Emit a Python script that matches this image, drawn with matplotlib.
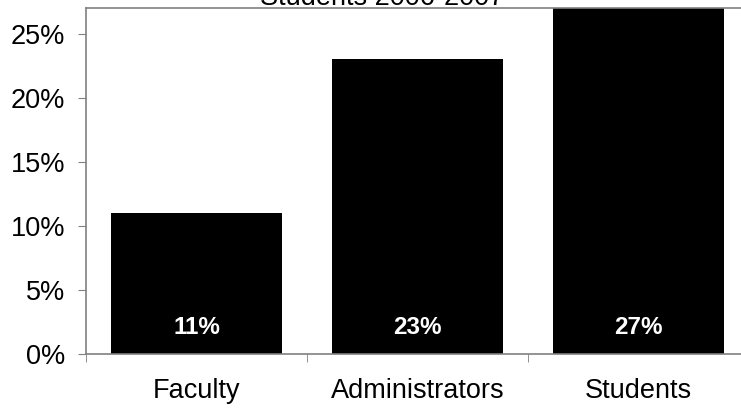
import matplotlib.pyplot as plt
from matplotlib.ticker import FuncFormatter

categories = ["Faculty", "Administrators", "Students"]
values = [11, 23, 27]
bar_labels = ["11%", "23%", "27%"]
yticks = [0, 5, 10, 15, 20, 25]

plt.rcParams['font.family'] = ['Liberation Sans', 'DejaVu Sans']

W, H = 741, 411
fig = plt.figure(figsize=(W / 100, H / 100), dpi=100)
# plot area runs past the right edge like the original
ax = fig.add_axes([86 / W, 1 - 354 / H, (749 - 86) / W, (354 - 8) / H])

x = range(len(categories))
ax.bar(x, values, width=0.77, color='black', zorder=2)
for i, lab in enumerate(bar_labels):
    ax.text(i, 1.56, lab, color='white', fontweight='bold', fontsize=17.5,
            ha='center', va='baseline', zorder=3)

ax.set_xlim(-0.5, 2.5)
ax.set_ylim(0, 27)
ax.set_yticks(yticks)
ax.yaxis.set_major_formatter(FuncFormatter(lambda v, p: f"{v:.0f}%"))
ax.tick_params(axis='y', labelsize=19.5, length=6, color='#808080', pad=9)

ax.set_xticks(list(x))
ax.set_xticklabels(categories, fontsize=19.5)
ax.tick_params(axis='x', length=0, pad=17)
ax.set_xticks([-0.5, 0.5, 1.5, 2.5], minor=True)
ax.tick_params(axis='x', which='minor', length=6, color='#808080')

for s in ['left', 'bottom', 'top']:
    ax.spines[s].set_color('#808080')
    ax.spines[s].set_linewidth(1.2)
ax.spines['right'].set_visible(False)

fig.text(382 / W, 1 - 5 / H, "Students 2006-2007", fontsize=19.5,
         ha='center', va='baseline')

fig.savefig("out.png", dpi=100)
